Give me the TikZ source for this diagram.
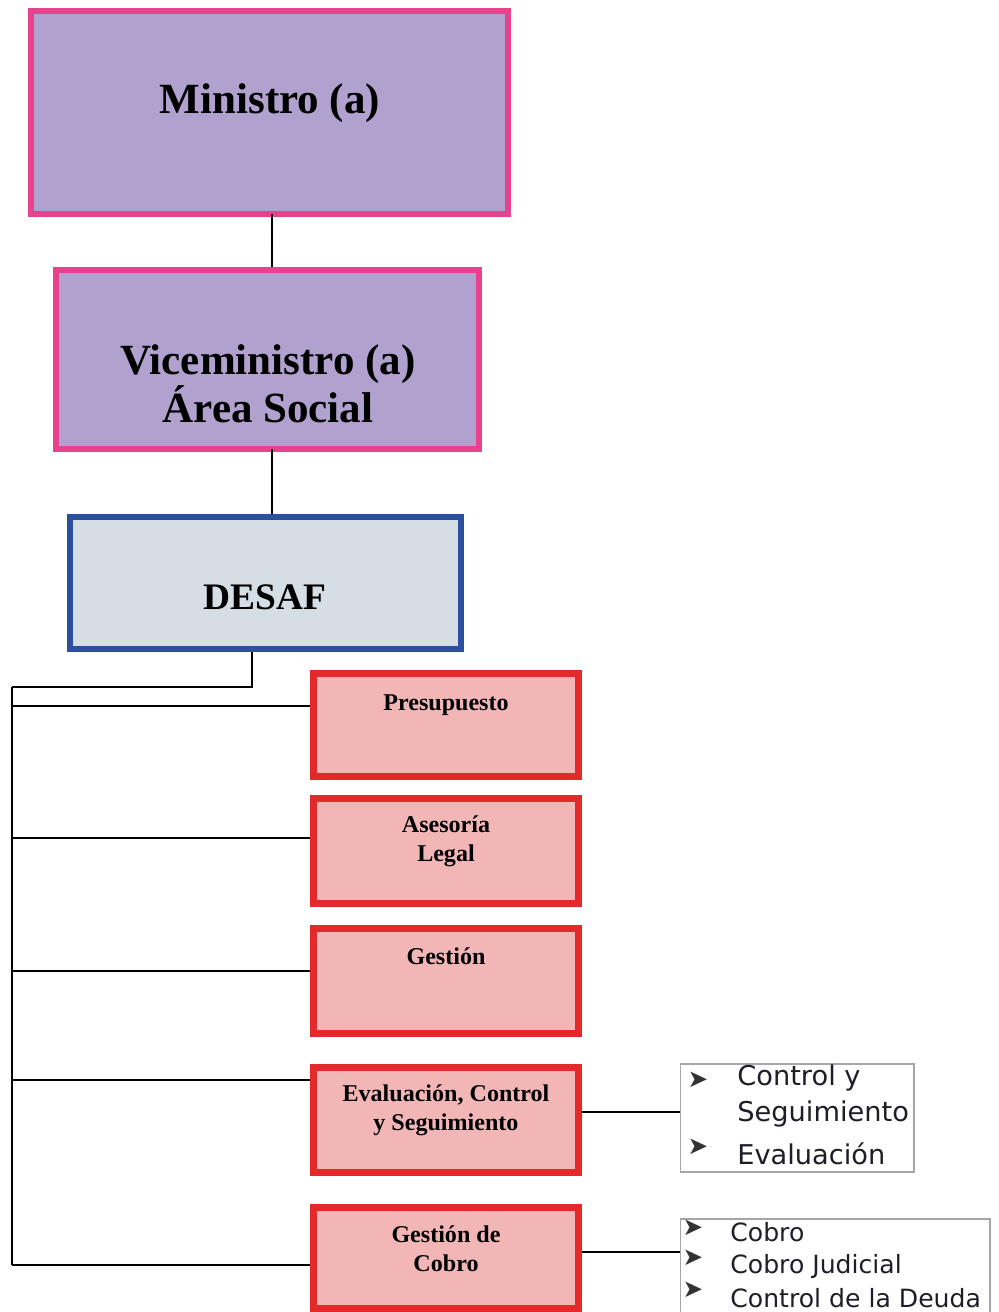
\documentclass[tikz,border=0pt]{standalone}
\usepackage{fontspec}
\setmainfont{Liberation Serif}
\newfontfamily\listfont{DejaVu Sans}
\usetikzlibrary{positioning,calc}

\definecolor{minpink}{HTML}{E8428F}
\definecolor{minlila}{HTML}{B1A1CF}
\definecolor{desafblue}{HTML}{2D4F9F}
\definecolor{desafgray}{HTML}{D5DDE5}
\definecolor{unitred}{HTML}{E3292A}
\definecolor{unitpink}{HTML}{F2B6B7}
\definecolor{listgray}{HTML}{A6A6A6}
\definecolor{listtext}{HTML}{1E1E28}

\begin{document}
\begin{tikzpicture}[x=0.02cm,y=-0.02cm,
  topbox/.style={draw=minpink,fill=minlila,line width=0.12cm,inner sep=0pt},
  desafbox/.style={draw=desafblue,fill=desafgray,line width=0.12cm,inner sep=0pt},
  unitbox/.style={draw=unitred,fill=unitpink,line width=0.14cm,inner sep=0pt,
    minimum width=5.3cm,minimum height=2.1cm},
  listbox/.style={draw=listgray,fill=white,line width=0.6pt,inner sep=0pt},
  bigtitle/.style={inner sep=0pt,align=center,font=\bfseries\fontsize{24.5}{27.3}\selectfont},
  unittitle/.style={inner sep=0pt,align=center,font=\bfseries\fontsize{13.7}{16.5}\selectfont},
  itema/.style={inner sep=0pt,anchor=west,text=listtext,font=\listfont\fontsize{15.5}{18}\selectfont},
  itemb/.style={inner sep=0pt,anchor=west,text=listtext,font=\listfont\fontsize{14.3}{16}\selectfont},
  arrowbullet/.style={inner sep=0pt,text=black!80,font=\listfont\fontsize{14}{14}\selectfont},
  link/.style={line width=1.2pt}]
\useasboundingbox (0,0) rectangle (998,1312);

% cajas superiores
\node[topbox,minimum width=9.54cm,minimum height=4.06cm] (ministro) at (269.5,112.5) {}; %Ministro
\node[topbox,minimum width=8.46cm,minimum height=3.58cm] (vice) at (267.5,359.5) {}; %Viceministro
\node[desafbox,minimum width=7.82cm,minimum height=2.64cm] (desaf) at (265.5,583) {}; %DESAF

\node[bigtitle] (ministro-t) at (270,103) {Ministro (a)};
\node[bigtitle] (vice-t) at (268,384) {Viceministro (a)\\Área Social};
\node[bigtitle,font=\bfseries\fontsize{21.3}{24}\selectfont] (desaf-t) at (265,597) {DESAF};

\coordinate (m-out) at (272,214);
\draw[link] (m-out) -- (m-out |- vice.north);
\coordinate (v-out) at (272,449);
\draw[link] (v-out) -- (v-out |- desaf.north);

% unidades
\node[unitbox,minimum height=2.06cm] (presup) at (446,725) {};
\node[unitbox] (legal) at (446,851) {};
\node[unitbox] (gestion) at (446,981) {};
\node[unitbox] (evalua) at (446,1120) {};
\node[unitbox,minimum height=2.02cm] (cobro) at (446,1258) {};

\node[unittitle] (presup-t) at (446,705) {Presupuesto};
\node[unittitle] (legal-t) at (446,841) {Asesoría\\Legal};
\node[unittitle] (gestion-t) at (446,956) {Gestión};
\node[unittitle] (evalua-t) at (446,1110) {Evaluación, Control\\y Seguimiento};
\node[unittitle] (cobro-t) at (446,1249) {Gestión de\\Cobro};

% bus de la DESAF
\coordinate (bustop) at (12,687);
\draw[link] ([xshift=-0.27cm]desaf.south) |- (bustop);
\foreach \b/\d in {presup/-19,legal/-13,gestion/-10,evalua/-40,cobro/7}{
  \coordinate (\b-in) at ($(\b.west)+(0,\d)$);
  \draw[link] (\b-in -| bustop) -- (\b-in);
}
\draw[link] (bustop) -- (bustop |- cobro-in);

% listas
\node[listbox,minimum width=4.68cm,minimum height=2.16cm] (lista) at (797,1118) {};
\node[listbox,minimum width=6.2cm,minimum height=1.96cm] (listb) at (835,1268) {};

\coordinate (evalua-out) at ($(evalua.east)+(0,-8)$);
\draw[link] (evalua-out) -- (evalua-out -| lista.west);
\coordinate (cobro-out) at ($(cobro.east)+(0,-6)$);
\draw[link] (cobro-out) -- (cobro-out -| listb.west);

\node[arrowbullet] (ba1) at (698,1080) {➤};
\node[arrowbullet] (ba2) at (698,1147) {➤};
\node[itema] (la1) at (737,1078) {Control y};
\node[itema] (la2) at (737,1114) {Seguimiento};
\node[itema] (la3) at (737,1154) {Evaluación};

\node[arrowbullet] (bb1) at (693,1228) {➤};
\node[arrowbullet] (bb2) at (693,1258) {➤};
\node[arrowbullet] (bb3) at (693,1290) {➤};
\node[itemb] (lb1) at (730,1232) {Cobro};
\node[itemb] (lb2) at (730,1266) {Cobro Judicial};
\node[itemb] (lb3) at (730,1298) {Control de la Deuda};

\end{tikzpicture}
\end{document}
